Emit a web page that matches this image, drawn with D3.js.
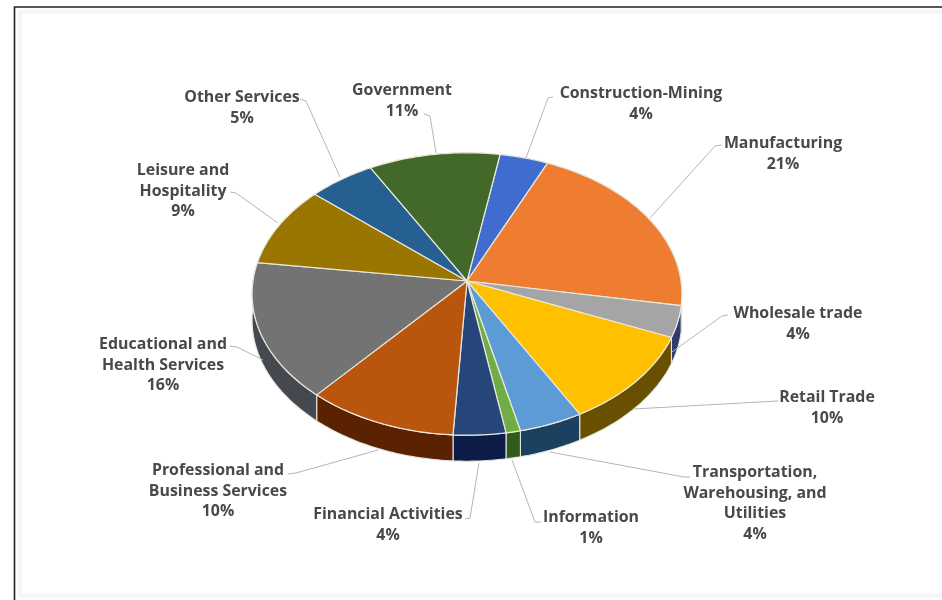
<!DOCTYPE html>
<html>
<head>
<meta charset="utf-8">
<script src="https://cdn.jsdelivr.net/npm/d3@7"></script>
<style>
  html, body { margin: 0; padding: 0; background: #fff; }
  text { font-family: "Open Sans", sans-serif; font-weight: 700; font-size: 15.9px; fill: #484848; text-anchor: middle; }
</style>
</head>
<body>
<div id="chart"></div>
<script>
// slice shares (the printed labels are rounded by the source)
const sectors = ["Construction-Mining", "Manufacturing", "Wholesale trade", "Retail Trade",
  "Transportation, Warehousing, and Utilities", "Information", "Financial Activities",
  "Professional and Business Services", "Educational and Health Services",
  "Leisure and Hospitality", "Other Services", "Government"];
const shares = [4.0, 21.1, 3.6, 10.6, 4.4, 1.0, 3.6, 10.4, 15.8, 9.3, 5.5, 10.8];
const printedPct = ["4%", "21%", "4%", "10%", "4%", "1%", "4%", "10%", "16%", "9%", "5%", "11%"];
const topColors = ["#3f6ccf", "#ee7d31", "#a5a5a5", "#ffc000", "#5b9bd5", "#70ad47",
  "#264478", "#b9540f", "#737373", "#9a7500", "#255e91", "#43682b"];
const sideColors = ["#2a4a8c", "#8a4416", "#2f3c6e", "#695000", "#1f4060", "#2f5c1e",
  "#0f1f47", "#5a2406", "#444a50", "#5c4600", "#163a5a", "#2a4218"];

// label lines per sector, and where each label and leader sits
const labelLines = [["Construction-Mining"], ["Manufacturing"], ["Wholesale trade"], ["Retail Trade"],
  ["Transportation,", "Warehousing, and", "Utilities"], ["Information"], ["Financial Activities"],
  ["Professional and", "Business Services"], ["Educational and", "Health Services"],
  ["Leisure and", "Hospitality"], ["Other Services"], ["Government"]];
const labelX = [641, 783, 798, 827, 755, 591, 388, 218, 163, 183, 242, 402];
const labelY = [98, 148, 318, 402, 477, 522, 519, 475, 349, 175, 102, 95];
const lineGap = 20.5;
const leaders = [
  [[553, 97], [548, 98], [526, 158]],
  [[722, 145], [715, 146], [650, 218]],
  [[728, 315], [722, 316], [672, 352]],
  [[778, 401], [633, 409]],
  [[690, 477], [684, 477], [550, 452]],
  [[541, 522], [535, 522], [512, 460]],
  [[465, 519], [470, 518], [479, 463]],
  [[288, 474], [296, 473], [378, 450]],
  [[230, 346], [237, 347], [263, 360]],
  [[230, 192], [236, 193], [278, 223]],
  [[300, 99], [306, 101], [340, 177]],
  [[424, 114], [430, 116], [436, 153]]
];

const width = 942, height = 600;
const apex = {x: 467, y: 281};
const rx = 214, ry = 140, tilt = -0.092, depth = 26;
const startDeg = 9.7;

const svg = d3.select("#chart").append("svg")
  .attr("width", width)
  .attr("height", height)
  .style("display", "block");

// the source is a soft, scaled-up screenshot
svg.append("defs").append("filter")
  .attr("id", "soft")
  .append("feGaussianBlur")
  .attr("stdDeviation", 0.45);

// faint inner band, then the black frame cut off by the image edge
svg.append("path")
  .attr("d", "M942,11.5H20V595.5H942")
  .attr("fill", "none")
  .attr("stroke", "#f6f6f6")
  .attr("stroke-width", 4);
svg.append("path")
  .attr("d", "M942,7H14.5V600")
  .attr("fill", "none")
  .attr("stroke", "#222")
  .attr("stroke-width", 1.6);

const pie = d3.pie()
  .sort(null)
  .value(d => d)
  .startAngle(startDeg * Math.PI / 180)
  .endAngle(startDeg * Math.PI / 180 + 2 * Math.PI);
const arcs = pie(shares);

// the pie lies tilted, so the centre sits above the middle of the ellipse
function project(angle, r) {
  const u = r * Math.sin(angle), v = -r * Math.cos(angle);
  const w = 1 + tilt * v;
  return [apex.x + rx * u / w, apex.y + ry * v / w];
}
function rim(d) {
  const steps = Math.max(2, Math.ceil((d.endAngle - d.startAngle) * 60));
  return d3.range(steps + 1).map(i =>
    project(d.startAngle + (d.endAngle - d.startAngle) * i / steps, 1));
}
const line = d3.line();
const chart = svg.append("g").attr("filter", "url(#soft)");

// side walls first, the top covers whatever is behind it
chart.append("g").selectAll("path")
  .data(arcs)
  .join("path")
  .attr("d", d => {
    const top = rim(d);
    const bottom = top.map(p => [p[0], p[1] + depth]).reverse();
    return line(top.concat(bottom)) + "Z";
  })
  .attr("fill", (d, i) => sideColors[i])
  .attr("stroke", "#e4e6e0")
  .attr("stroke-width", 1.1);

chart.append("g").selectAll("path")
  .data(arcs)
  .join("path")
  .attr("d", d => line([[apex.x, apex.y]].concat(rim(d))) + "Z")
  .attr("fill", (d, i) => topColors[i])
  .attr("stroke", "#e9e9dc")
  .attr("stroke-width", 1.2)
  .attr("stroke-linejoin", "round");

// leader lines
chart.append("g").selectAll("path")
  .data(leaders)
  .join("path")
  .attr("d", d => line(d))
  .attr("fill", "none")
  .attr("stroke", "#b5b5b5")
  .attr("stroke-width", 1);

// labels
const labels = chart.append("g").selectAll("text")
  .data(sectors)
  .join("text")
  .attr("aria-label", d => d);
labels.each(function(d, i) {
  const rows = labelLines[i].concat(printedPct[i]);
  d3.select(this).selectAll("tspan")
    .data(rows)
    .join("tspan")
    .attr("x", labelX[i])
    .attr("y", (r, j) => labelY[i] + j * lineGap)
    .text(r => r);
});
</script>
</body>
</html>
